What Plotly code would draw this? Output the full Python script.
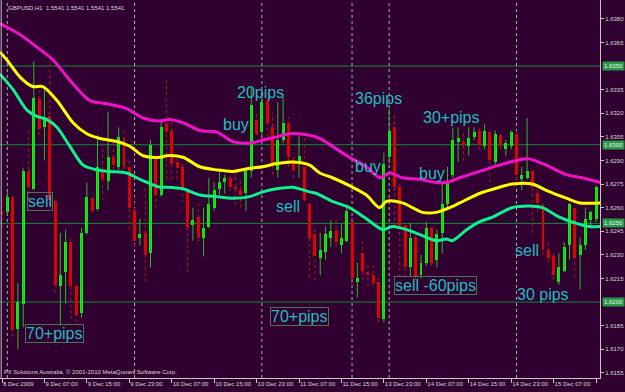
import plotly.graph_objects as go

# ---------------- data (GBPUSD H1) ----------------
opens = [1.6258, 1.6257, 1.6266, 1.6183, 1.6199, 1.6283, 1.6272, 1.6329, 1.6311, 1.6318,
         1.6264, 1.6210, 1.6219, 1.6238, 1.6210, 1.6193, 1.6244, 1.6266, 1.6259, 1.6284,
         1.6277, 1.6292, 1.6286, 1.6304, 1.6286, 1.6258, 1.6241, 1.6244, 1.6231, 1.6292,
         1.6268, 1.6313, 1.6309, 1.6289, 1.6286, 1.6271, 1.6249, 1.6254, 1.6241, 1.6248,
         1.6260, 1.6272, 1.6276, 1.6279, 1.6273, 1.6271, 1.6269, 1.6283, 1.6316, 1.6308,
         1.6328, 1.6311, 1.6284, 1.6303, 1.6314, 1.6290, 1.6288, 1.6286, 1.6262, 1.6243,
         1.6228, 1.6232, 1.6241, 1.6246, 1.6236, 1.6239, 1.6251, 1.6213, 1.6231, 1.6219,
         1.6217, 1.6213, 1.6189, 1.6292, 1.6311, 1.6273, 1.6249, 1.6222, 1.6241, 1.6217,
         1.6225, 1.6247, 1.6227, 1.6244, 1.6262, 1.6281, 1.6302, 1.6302, 1.6299, 1.6305,
         1.6309, 1.6299, 1.6308, 1.6289, 1.6306, 1.6297, 1.6299, 1.6307, 1.6278, 1.6279,
         1.6283, 1.6269, 1.6262, 1.6233, 1.6229, 1.6213, 1.6220, 1.6236, 1.6260, 1.6230,
         1.6236, 1.6252, 1.6253]
highs = [1.6265, 1.6271, 1.6268, 1.6212, 1.6285, 1.6311, 1.6353, 1.6338, 1.6335, 1.6354,
         1.6266, 1.6244, 1.6246, 1.6241, 1.6211, 1.6247, 1.6276, 1.6269, 1.6306, 1.6301,
         1.6321, 1.6303, 1.6311, 1.6309, 1.6290, 1.6267, 1.6253, 1.6273, 1.6303, 1.6293,
         1.6316, 1.6341, 1.6316, 1.6292, 1.6288, 1.6272, 1.6260, 1.6263, 1.6260, 1.6279,
         1.6276, 1.6283, 1.6281, 1.6282, 1.6285, 1.6278, 1.6284, 1.6336, 1.6321, 1.6332,
         1.6333, 1.6320, 1.6327, 1.6330, 1.6318, 1.6295, 1.6306, 1.6306, 1.6263, 1.6248,
         1.6244, 1.6248, 1.6252, 1.6252, 1.6250, 1.6262, 1.6254, 1.6225, 1.6239, 1.6225,
         1.6225, 1.6215, 1.6295, 1.6323, 1.6320, 1.6276, 1.6250, 1.6250, 1.6244, 1.6230,
         1.6251, 1.6249, 1.6246, 1.6276, 1.6286, 1.6311, 1.6311, 1.6309, 1.6311, 1.6311,
         1.6311, 1.6313, 1.6309, 1.6309, 1.6308, 1.6303, 1.6309, 1.6309, 1.6286, 1.6317,
         1.6285, 1.6273, 1.6263, 1.6238, 1.6231, 1.6231, 1.6238, 1.6263, 1.6262, 1.6241,
         1.6260, 1.6258, 1.6274]
lows = [1.6248, 1.6255, 1.6178, 1.6170, 1.6184, 1.6265, 1.6271, 1.6306, 1.6290, 1.6262,
        1.6206, 1.6185, 1.6199, 1.6189, 1.6187, 1.6190, 1.6243, 1.6257, 1.6258, 1.6265,
        1.6271, 1.6284, 1.6284, 1.6284, 1.6246, 1.6235, 1.6236, 1.6213, 1.6222, 1.6260,
        1.6267, 1.6278, 1.6278, 1.6278, 1.6263, 1.6219, 1.6239, 1.6238, 1.6229, 1.6247,
        1.6258, 1.6268, 1.6269, 1.6271, 1.6262, 1.6260, 1.6258, 1.6279, 1.6306, 1.6306,
        1.6305, 1.6281, 1.6279, 1.6301, 1.6286, 1.6279, 1.6279, 1.6264, 1.6216, 1.6214,
        1.6217, 1.6227, 1.6235, 1.6235, 1.6231, 1.6238, 1.6211, 1.6203, 1.6214, 1.6210,
        1.6210, 1.6187, 1.6187, 1.6288, 1.6248, 1.6216, 1.6216, 1.6216, 1.6214, 1.6215,
        1.6223, 1.6223, 1.6222, 1.6231, 1.6260, 1.6279, 1.6289, 1.6290, 1.6293, 1.6303,
        1.6297, 1.6297, 1.6276, 1.6287, 1.6297, 1.6293, 1.6297, 1.6274, 1.6271, 1.6278,
        1.6244, 1.6258, 1.6230, 1.6225, 1.6214, 1.6211, 1.6219, 1.6227, 1.6216, 1.6208,
        1.6233, 1.6247, 1.6251]
closes = [1.6256, 1.6267, 1.6182, 1.6200, 1.6283, 1.6273, 1.6330, 1.6310, 1.6316, 1.6265,
          1.6211, 1.6217, 1.6238, 1.6210, 1.6192, 1.6244, 1.6267, 1.6258, 1.6286, 1.6278,
          1.6292, 1.6287, 1.6305, 1.6286, 1.6260, 1.6239, 1.6243, 1.6230, 1.6300, 1.6268,
          1.6311, 1.6308, 1.6288, 1.6285, 1.6271, 1.6248, 1.6252, 1.6241, 1.6247, 1.6262,
          1.6271, 1.6276, 1.6279, 1.6273, 1.6272, 1.6268, 1.6283, 1.6325, 1.6307, 1.6327,
          1.6314, 1.6288, 1.6303, 1.6314, 1.6292, 1.6284, 1.6293, 1.6265, 1.6241, 1.6229,
          1.6233, 1.6243, 1.6245, 1.6238, 1.6241, 1.6258, 1.6215, 1.6215, 1.6220, 1.6217,
          1.6212, 1.6190, 1.6288, 1.6309, 1.6273, 1.6248, 1.6222, 1.6241, 1.6216, 1.6225,
          1.6247, 1.6225, 1.6243, 1.6262, 1.6276, 1.6303, 1.6304, 1.6300, 1.6304, 1.6308,
          1.6300, 1.6309, 1.6290, 1.6307, 1.6299, 1.6301, 1.6308, 1.6281, 1.6281, 1.6283,
          1.6273, 1.6263, 1.6233, 1.6228, 1.6217, 1.6222, 1.6235, 1.6262, 1.6228, 1.6236,
          1.6253, 1.6257, 1.6273]

# moving averages read at sampled bar positions
ma_magenta_x = [-0.4, 3.4, 6.2, 9.6, 12.8, 16.6, 19.8, 23.5, 26.6, 29.8, 31.6, 34.1, 37.3, 40.5,
                43.5, 46.7, 49.2, 51.8, 54.2, 58.0, 59.9, 62.3, 65.5, 68.7, 71.2, 73.1, 75.5,
                78.7, 81.9, 83.8, 86.3, 90.0, 93.8, 97.0, 99.4, 102.6, 106.4, 109.4, 112.8]
ma_magenta_y = [1.6377, 1.6370, 1.6363, 1.6354, 1.6341, 1.6328, 1.6326, 1.6323, 1.6317, 1.6315,
                1.6316, 1.6314, 1.6309, 1.6308, 1.6302, 1.6301, 1.6303, 1.6305, 1.6307, 1.6306,
                1.6304, 1.6299, 1.6292, 1.6286, 1.6279, 1.6282, 1.6279, 1.6278, 1.6276, 1.6276,
                1.6279, 1.6283, 1.6287, 1.6290, 1.6291, 1.6287, 1.6281, 1.6279, 1.6276]
ma_yellow_x = [-0.4, 0.9, 3.4, 5.8, 7.7, 10.4, 13.4, 16.0, 18.5, 21.7, 24.1, 26.6, 29.8, 31.1,
               34.1, 37.3, 40.5, 43.5, 46.7, 49.2, 51.8, 54.8, 58.0, 59.9, 62.3, 65.5, 68.7,
               71.2, 72.5, 75.5, 79.3, 81.9, 84.4, 86.3, 90.0, 93.8, 96.2, 100.0, 102.6, 106.4,
               108.9, 112.8]
ma_yellow_y = [1.6359, 1.6354, 1.6343, 1.6337, 1.6337, 1.6328, 1.6314, 1.6307, 1.6304, 1.6302,
               1.6299, 1.6293, 1.6292, 1.6293, 1.6292, 1.6286, 1.6284, 1.6283, 1.6285, 1.6286,
               1.6288, 1.6289, 1.6287, 1.6282, 1.6279, 1.6274, 1.6268, 1.6260, 1.6264, 1.6263,
               1.6257, 1.6257, 1.6260, 1.6263, 1.6269, 1.6273, 1.6275, 1.6275, 1.6271, 1.6266,
               1.6263, 1.6263]
ma_green_x = [-0.4, 2.1, 4.7, 6.6, 8.5, 10.4, 12.8, 15.3, 17.9, 20.3, 23.5, 26.0, 29.8, 31.1,
              34.1, 37.3, 40.5, 43.5, 46.7, 49.2, 51.8, 54.8, 58.0, 59.3, 62.3, 65.5, 68.7,
              71.8, 73.6, 76.3, 78.7, 81.9, 83.8, 84.9, 87.6, 90.0, 92.5, 96.2, 99.4, 101.9,
              105.1, 108.3, 110.7, 112.8]
ma_green_y = [1.6345, 1.6335, 1.6322, 1.6318, 1.6316, 1.6311, 1.6299, 1.6287, 1.6284, 1.6283,
              1.6282, 1.6278, 1.6273, 1.6273, 1.6272, 1.6268, 1.6267, 1.6266, 1.6267, 1.6270,
              1.6272, 1.6273, 1.6270, 1.6269, 1.6264, 1.6260, 1.6253, 1.6246, 1.6248, 1.6246,
              1.6243, 1.6239, 1.6240, 1.6239, 1.6246, 1.6251, 1.6254, 1.6260, 1.6261, 1.6260,
              1.6254, 1.6250, 1.6248, 1.6248]

levels = [1.6350, 1.6300, 1.6250, 1.6200]
separator_bars = [1, 25, 49, 66, 73, 97]

xtick_bars = [0, 8, 16, 24, 32, 40, 48, 56, 64, 72, 80, 88, 96, 104, 112]
xtick_text = ["8 Dec 2009", "9 Dec 07:00", "9 Dec 15:00", "9 Dec 23:00", "10 Dec 07:00",
              "10 Dec 15:00", "10 Dec 23:00", "11 Dec 07:00", "11 Dec 15:00", "13 Dec 23:00",
              "14 Dec 07:00", "14 Dec 15:00", "14 Dec 23:00", "15 Dec 07:00", "15 Dec 15:00"]
ytick_vals = [1.6155, 1.6170, 1.6185, 1.6215, 1.6230, 1.6245, 1.6260, 1.6275, 1.6290,
              1.6305, 1.6320, 1.6335, 1.6365, 1.6380]

note_text = ["sell", "70+pips", "buy", "20pips", "sell", "70+pips", "36pips", "buy", "buy",
             "30+pips", "sell -60pips", "sell", "30 pips"]
note_bar = [7.07, 9.99, 44.1, 48.8, 53.9, 56.0, 70.9, 69.0, 81.1, 84.8, 81.8, 99.0, 102.0]
note_price = [1.62642, 1.61803, 1.63131, 1.63335, 1.62610, 1.61905, 1.63297, 1.62864,
              1.62820, 1.63176, 1.62102, 1.62330, 1.62051]
note_boxed = [True, True, False, False, False, True, False, False, False, False, True,
              False, False]

# ---------------- styles ----------------
BG = "#2F0030"
AXIS = "#C8C8C0"
BULL = "#00FF00"
BEAR = "#E00000"
TEAL = "#22BDBD"

bars = list(range(len(opens)))
fig = go.Figure()

# wicks
bull_x, bull_y, bear_x, bear_y = [], [], [], []
for i in bars:
    if closes[i] >= opens[i]:
        bull_x += [i, i, None]
        bull_y += [lows[i], highs[i], None]
    else:
        bear_x += [i, i, None]
        bear_y += [lows[i], highs[i], None]
fig.add_trace(go.Scatter(x=bull_x, y=bull_y, mode="lines",
                         line=dict(color="#2DB82D", width=1), hoverinfo="skip"))
fig.add_trace(go.Scatter(x=bear_x, y=bear_y, mode="lines",
                         line=dict(color="#B01818", width=1, dash="dot"), hoverinfo="skip"))

# bodies
body_base = [min(o, c) for o, c in zip(opens, closes)]
body_h = [abs(c - o) for o, c in zip(opens, closes)]
body_col = [BULL if c >= o else BEAR for o, c in zip(opens, closes)]
fig.add_trace(go.Bar(x=bars, y=body_h, base=body_base, width=0.56,
                     marker=dict(color=body_col, line=dict(width=0))))

# moving averages
for xs, ys, col in [(ma_magenta_x, ma_magenta_y, "#F010C8"),
                    (ma_yellow_x, ma_yellow_y, "#FFFF00"),
                    (ma_green_x, ma_green_y, "#10F090")]:
    fig.add_trace(go.Scatter(x=xs, y=ys, mode="lines",
                             line=dict(color=col, width=3, shape="spline", smoothing=0.8),
                             hoverinfo="skip"))

for lv in levels:
    fig.add_hline(y=lv, line=dict(color="#148A38", width=1), layer="below")
    fig.add_annotation(x=1, xref="paper", y=lv, yref="y", xanchor="left", xshift=2,
                       text=f"{lv:.4f}", showarrow=False, bgcolor="#2A9A4A",
                       font=dict(family="Liberation Sans", size=6, color="#F0F0F0"),
                       borderpad=1)

for b in separator_bars:
    fig.add_vline(x=b, line=dict(color="#A6B0A6", width=1, dash="dot"), layer="below")

for t, bx, py, boxed in zip(note_text, note_bar, note_price, note_boxed):
    fig.add_annotation(x=bx, y=py, text=t, showarrow=False,
                       font=dict(family="Liberation Sans", size=16, color=TEAL),
                       bordercolor="#4A7458" if boxed else "rgba(0,0,0,0)",
                       borderwidth=1, borderpad=0)

fig.add_annotation(x=0.01, y=0.992, xref="paper", yref="paper", xanchor="left", yanchor="top",
                   text="GBPUSD,H1  1.5541 1.5541 1.5541 1.5541", showarrow=False,
                   font=dict(family="Liberation Sans", size=6, color="#D8D8D8"))
fig.add_annotation(x=0.004, y=0.003, xref="paper", yref="paper", xanchor="left", yanchor="bottom",
                   text="FX Solutions Australia, © 2001-2010 MetaQuotes Software Corp.",
                   showarrow=False,
                   font=dict(family="Liberation Sans", size=6, color="#D8D8D8"))

fig.add_shape(type="line", xref="paper", yref="paper", x0=0.002, x1=0.002, y0=0, y1=1,
              line=dict(color="#BFBFBF", width=1))

fig.update_layout(
    width=625, height=392,
    margin=dict(l=0, r=25, t=0, b=14),
    paper_bgcolor=BG, plot_bgcolor=BG,
    showlegend=False, bargap=0,
    xaxis=dict(range=[-0.377, 112.75], tickvals=xtick_bars, ticktext=xtick_text,
               tickangle=0,
               ticks="outside", ticklen=4, tickcolor=AXIS, showgrid=False, zeroline=False,
               showline=True, linecolor=AXIS, linewidth=1,
               ticklabelposition="outside right",
               tickfont=dict(family="Liberation Sans", size=6, color="#D8D8D8")),
    yaxis=dict(range=[1.61517, 1.63920], side="right", tickvals=ytick_vals,
               ticktext=[f"{v:.4f}" for v in ytick_vals],
               ticks="outside", ticklen=3, tickcolor=AXIS, showgrid=False, zeroline=False,
               showline=True, linecolor=AXIS, linewidth=1,
               tickfont=dict(family="Liberation Sans", size=6, color="#D8D8D8")),
)

fig.write_html("out.html")
